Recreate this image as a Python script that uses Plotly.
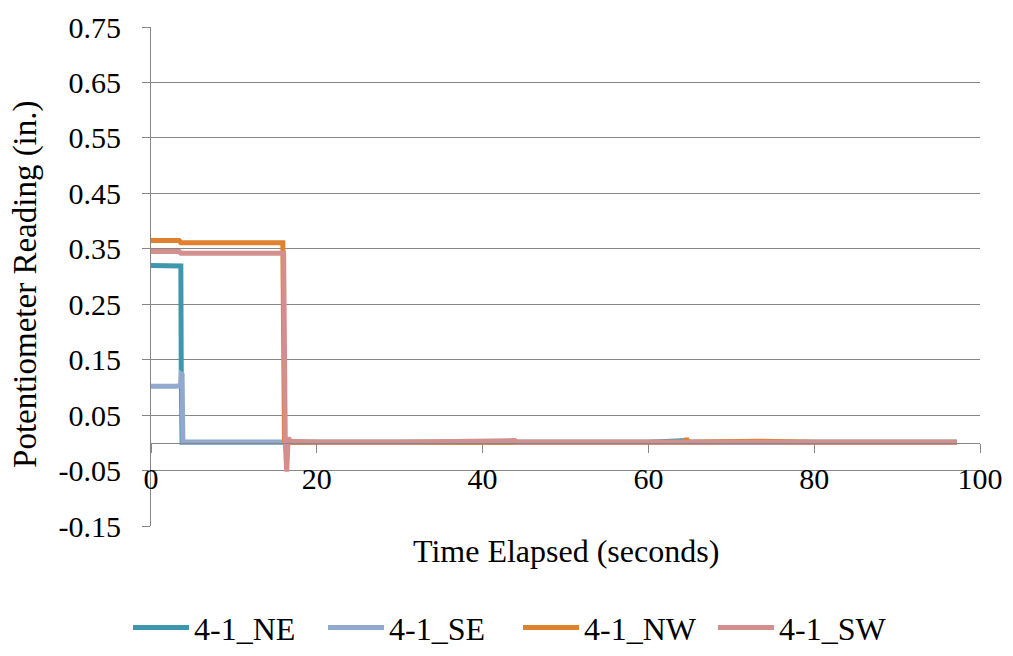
import plotly.graph_objects as go

# ---- data ----
series_names = ["4-1_NE", "4-1_SE", "4-1_NW", "4-1_SW"]
series_colors = ["#3F97AE", "#92A9CF", "#E0812F", "#D38E8E"]

ne_time = [0, 1.0, 2.0, 3.0, 3.6, 3.65, 3.75, 10, 16.3, 30, 43.9, 60, 64.6, 64.8, 80, 97.2]
ne_val = [0.320, 0.320, 0.319, 0.320, 0.319, 0.12, 0.001, 0.001, 0.001, 0.001, 0.001, 0.001, 0.004, 0.001, 0.001, 0.001]

se_time = [0, 1.0, 2.0, 3.0, 3.55, 3.65, 3.75, 3.85, 10, 16.0, 30, 43.9, 60, 80, 97.2]
se_val = [0.102, 0.101, 0.102, 0.102, 0.103, 0.124, 0.123, 0.001, 0.001, 0.001, 0.001, 0.001, 0.001, 0.001, 0.001]

nw_time = [0, 1.5, 3.4, 3.6, 8, 12, 15.9, 16.1, 16.3, 20, 30, 43.9, 50, 64.4, 64.6, 64.8, 72.6, 80, 97.2]
nw_val = [0.365, 0.365, 0.365, 0.361, 0.361, 0.361, 0.361, 0.002, 0.001, 0.001, 0.001, 0.002, 0.001, 0.001, 0.008, 0.001, 0.003, 0.001, 0.001]

sw_time = [0, 1.5, 3.4, 3.6, 8, 12, 16.0, 16.2, 16.37, 16.55, 16.8, 20, 30, 43.9, 44.1, 50, 64.6, 72.6, 80, 97.2]
sw_val = [0.345, 0.344, 0.345, 0.342, 0.342, 0.341, 0.342, 0.0, -0.052, 0.009, 0.003, 0.001, 0.001, 0.004, 0.001, 0.001, 0.002, 0.001, 0.001, 0.001]

x_ticks = [0, 20, 40, 60, 80, 100]
y_ticks = [-0.15, -0.05, 0.05, 0.15, 0.25, 0.35, 0.45, 0.55, 0.65, 0.75]
y_tick_text = ["-0.15", "-0.05", "0.05", "0.15", "0.25", "0.35", "0.45", "0.55", "0.65", "0.75"]

x_title = "Time Elapsed (seconds)"
y_title = "Potentiometer Reading (in.)"

# ---- figure ----
FONT = "Times New Roman"
GRID = "#868686"
Y_MIN, Y_MAX = -0.15, 0.75

fig = go.Figure()
for name, color, t, v in zip(series_names, series_colors,
                             [ne_time, se_time, nw_time, sw_time],
                             [ne_val, se_val, nw_val, sw_val]):
    fig.add_trace(go.Scatter(x=t, y=v, mode="lines", name=name,
                             line=dict(color=color, width=5)))

fig.update_layout(
    template="none",
    width=1013, height=656,
    margin=dict(l=151, r=33, t=27, b=130, pad=0, autoexpand=False),
    paper_bgcolor="white", plot_bgcolor="white",
    font=dict(family=FONT, size=30, color="black"),
    showlegend=True,
    legend=dict(orientation="h", x=(128 - 151) / 829, xanchor="left",
                y=-0.204, yanchor="middle",
                font=dict(family=FONT, size=32), itemwidth=56,
                entrywidth=124, entrywidthmode="pixels", tracegroupgap=0,
                bgcolor="rgba(0,0,0,0)"),
    xaxis=dict(range=[0, 100], tickmode="array", tickvals=x_ticks,
               ticktext=[str(v) for v in x_ticks],
               showgrid=False, zeroline=False,
               showline=True, linecolor=GRID, linewidth=1, automargin=False,
               ticks="outside", ticklen=9, tickcolor=GRID, tickwidth=1,
               anchor="free", position=(0 - Y_MIN) / (Y_MAX - Y_MIN),
               tickfont=dict(family=FONT, size=30, color="black")),
    yaxis=dict(range=[Y_MIN, Y_MAX], tickmode="array", tickvals=y_ticks, ticktext=y_tick_text,
               showgrid=True, gridcolor=GRID, gridwidth=1, zeroline=False,
               showline=True, linecolor=GRID, linewidth=1, automargin=False,
               ticks="outside", ticklen=8, tickcolor=GRID, tickwidth=1,
               tickfont=dict(family=FONT, size=30, color="black"), ticklabelstandoff=15),
    annotations=[
        dict(text=x_title, xref="paper", yref="paper", x=0.5, y=-0.0501,
             xanchor="center", yanchor="middle", showarrow=False,
             font=dict(family=FONT, size=32)),
        dict(text=y_title, xref="paper", yref="paper", x=-0.1508, y=0.485,
             xanchor="center", yanchor="middle", showarrow=False, textangle=-90,
             font=dict(family=FONT, size=33)),
    ],
)

fig.write_html("out.html", config={"displayModeBar": False},
               post_script="document.body.style.margin='0';document.body.style.padding='0';")
